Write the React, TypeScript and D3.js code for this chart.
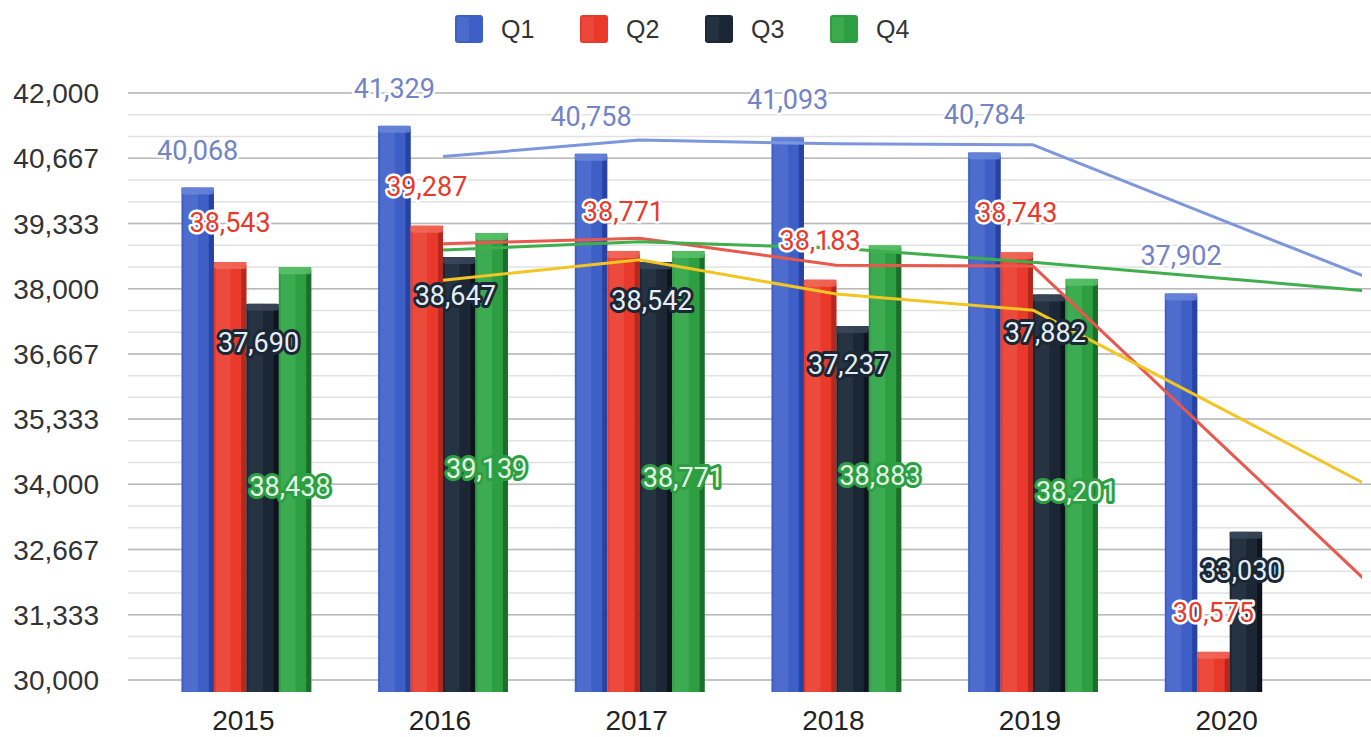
import React from "react";
import * as d3 from "d3";

const years = ["2015", "2016", "2017", "2018", "2019", "2020"];
const seriesNames = ["Q1", "Q2", "Q3", "Q4"];
const q1 = [40068, 41329, 40758, 41093, 40784, 37902];
const q2 = [38543, 39287, 38771, 38183, 38743, 30575];
const q3 = [37690, 38647, 38542, 37237, 37882, 33030];
const q4 = [38438, 39139, 38771, 38883, 38201, null];

// trend lines at 2016..2020 and where they run off the right edge
const trendIndex = [1, 2, 3, 4, 5, 6];
const trendQ1 = [40700, 41040, 40960, 40940, 39340, 37750];
const trendQ2 = [38920, 39030, 38480, 38460, 34660, 30860];
const trendQ3 = [38170, 38590, 37890, 37560, 35460, 33350];
const trendQ4 = [38790, 38960, 38830, 38540, 38200, 37850];

const W = 1371;
const H = 737;
const margin = { top: 93, bottom: 57, left: 128, right: 9 };

const palette = [
  { base: "#3d5fc6", light: "#6d88db", dark: "#2742a0", trend: "#7d97dc", label: "#7283c6" },
  { base: "#e8392b", light: "#f36b5d", dark: "#b5281d", trend: "#e9584d", label: "#e8392b" },
  { base: "#1b2735", light: "#3b4a5d", dark: "#0d141d", trend: "#f2c522", label: "#1b2735" },
  { base: "#2d9f42", light: "#5cc46c", dark: "#1c6e2d", trend: "#3fae4c", label: "#2d9f42" },
];

function Bar({ x, y, w, y0, c }) {
  const h = y0 - y;
  return (
    <g>
      <rect x={x} y={y} width={w} height={h} fill={c.base} />
      <rect x={x + 2} y={y} width={w * 0.45} height={h} fill={c.light} opacity={0.35} />
      <rect x={x + w - 5} y={y + 3} width={5} height={h - 3} fill={c.dark} />
      <rect x={x} y={y} width={w} height={7} rx={3} fill={c.light} opacity={0.8} />
    </g>
  );
}

export default function App() {
  const data = [q1, q2, q3, q4];
  const plotBottom = H - margin.bottom - 0;
  const y = d3.scaleLinear().domain([30000, 42000]).range([680, 93]);
  const x0 = d3
    .scaleBand()
    .domain(years)
    .range([148, 1328])
    .paddingInner(0.34)
    .paddingOuter(0.17);
  const x1 = d3.scaleBand().domain(seriesNames).range([0, x0.bandwidth()]);
  const bw = x1.bandwidth();
  const xIdx = d3
    .scaleLinear()
    .domain([0, years.length - 1])
    .range([x0(years[0]) + x0.bandwidth() / 2, x0(years[years.length - 1]) + x0.bandwidth() / 2]);

  const majorTicks = d3.range(0, 10).map((i) => 30000 + (i * 4000) / 3);
  const minorTicks = d3.range(0, 28).map((i) => 30000 + (i * 4000) / 9);
  const fmt = d3.format(",.0f");
  const barBottom = y(30000) + 12;

  const trends = [trendQ1, trendQ2, trendQ3, trendQ4];
  const line = d3
    .line()
    .x((d) => xIdx(d[0]))
    .y((d) => y(d[1]));

  const labelFont = "Roboto, 'Liberation Sans', sans-serif";
  const axisFont = "'Liberation Sans', Arial, sans-serif";

  return (
    <div style={{ position: "absolute", left: 0, top: 0 }}>
      <svg width={W} height={H} style={{ display: "block", background: "#fff" }}>
        <defs>
          <clipPath id="plotClip">
            <rect x={margin.left} y={0} width={1362 - margin.left} height={H} />
          </clipPath>
        </defs>

        {/* grid */}
        {minorTicks.map((t, i) => (
          <line key={"m" + i} x1={margin.left} x2={W} y1={y(t)} y2={y(t)} stroke="#e2e2e2" strokeWidth={1.5} />
        ))}
        {majorTicks.map((t, i) => (
          <line key={"M" + i} x1={margin.left} x2={W} y1={y(t)} y2={y(t)} stroke="#b9b9b9" strokeWidth={1.5} />
        ))}

        {/* y axis labels */}
        {majorTicks.map((t, i) => (
          <text
            key={"yl" + i}
            x={99}
            y={y(t)}
            dy="0.36em"
            textAnchor="end"
            fontFamily={axisFont}
            fontSize={28}
            fill="#333"
          >
            {fmt(t)}
          </text>
        ))}

        {/* bars */}
        {years.map((yr, i) => (
          <g key={yr} transform={`translate(${x0(yr)},0)`}>
            {data.map((s, k) =>
              s[i] == null ? null : (
                <Bar key={k} x={x1(seriesNames[k])} y={y(s[i])} w={bw} y0={barBottom} c={palette[k]} />
              )
            )}
          </g>
        ))}

        {/* trend lines */}
        <g clipPath="url(#plotClip)">
          {trends.map((t, k) => (
            <path
              key={k}
              d={line(t.map((v, j) => [trendIndex[j], v]))}
              fill="none"
              stroke={palette[k].trend}
              strokeWidth={3}
              strokeLinejoin="round"
            />
          ))}
        </g>

        {/* data labels */}
        {years.map((yr, i) =>
          data.map((s, k) => {
            const v = s[i];
            if (v == null) return null;
            const top = y(v);
            const cx = x0(yr) + x1(seriesNames[k]) + bw / 2;
            let lx = cx;
            let ly = top;
            let fill = palette[k].label;
            let stroke = "#ffffff";
            let sw = 5;
            if (k === 0) ly = top - 28;
            if (k === 1) ly = top - 30;
            if (k === 2) {
              lx = cx - 4;
              ly = top + 48;
              fill = "#e4eef6";
              stroke = palette[2].base;
              sw = 6;
            }
            if (k === 3) {
              lx = cx - 5;
              ly = (top + y(30000)) / 2 + 22;
              fill = "#e6f6e6";
              stroke = palette[3].base;
              sw = 6;
            }
            return (
              <text
                key={yr + k}
                x={lx}
                y={ly}
                textAnchor="middle"
                fontFamily={labelFont}
                fontSize={27}
                fill={fill}
                stroke={stroke}
                strokeWidth={sw}
                strokeLinejoin="round"
                paintOrder="stroke"
              >
                {fmt(v)}
              </text>
            );
          })
        )}

        {/* x axis labels */}
        {years.map((yr) => (
          <text
            key={"xl" + yr}
            x={x0(yr) + x0.bandwidth() / 2 - 3}
            y={730}
            textAnchor="middle"
            fontFamily={axisFont}
            fontSize={28}
            fill="#222"
          >
            {yr}
          </text>
        ))}

        {/* legend */}
        {seriesNames.map((n, k) => {
          const lx = 455 + k * 125;
          return (
            <g key={n} transform={`translate(${lx},15)`}>
              <rect width={28} height={28} rx={3} fill={palette[k].base} />
              <rect x={2} y={2} width={12} height={24} fill={palette[k].light} opacity={0.3} />
              <text x={46} y={14} dy="0.36em" fontFamily={axisFont} fontSize={25} fill="#333">
                {n}
              </text>
            </g>
          );
        })}
      </svg>
    </div>
  );
}
